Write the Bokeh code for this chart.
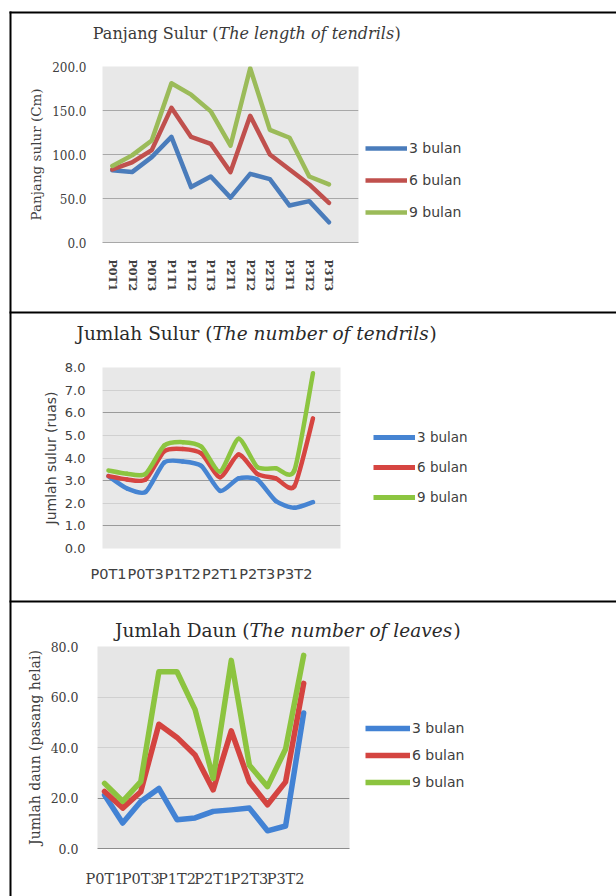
from bokeh.plotting import figure
from bokeh.models import (Range1d, FixedTicker, PrintfTickFormatter, Legend, LegendItem,
                          Label, Grid, BoxAnnotation)
from bokeh.embed import file_html
from bokeh.resources import INLINE

# ---------------- data ----------------
categories = ["P0T1", "P0T2", "P0T3", "P1T1", "P1T2", "P1T3",
              "P2T1", "P2T2", "P2T3", "P3T1", "P3T2", "P3T3"]
series_names = ["3 bulan", "6 bulan", "9 bulan"]

# Panjang sulur (cm)
panjang_3 = [82, 80, 97, 120, 63, 75, 51, 78, 72, 42, 47, 23]
panjang_6 = [83, 91, 105, 153, 120, 112, 80, 144, 100, 83, 66, 45]
panjang_9 = [87, 99, 116, 181, 168, 149, 110, 198, 128, 119, 75, 66]

# Jumlah sulur
jsulur_3 = [3.2, 2.65, 2.5, 3.8, 3.85, 3.65, 2.55, 3.1, 3.05, 2.1, 1.8, 2.05]
jsulur_6 = [3.2, 3.05, 3.05, 4.3, 4.4, 4.2, 3.15, 4.15, 3.3, 3.1, 2.75, 5.75]
jsulur_9 = [3.45, 3.3, 3.3, 4.55, 4.7, 4.5, 3.4, 4.85, 3.6, 3.55, 3.45, 7.75]

# Jumlah daun
jdaun_3 = [21.2, 10.1, 18.6, 23.8, 11.4, 12.1, 14.7, 15.3, 16.0, 7.0, 8.9, 53.7]
jdaun_6 = [22.6, 16.0, 22.5, 49.2, 44.0, 37.0, 23.2, 46.6, 26.4, 17.3, 26.4, 65.4]
jdaun_9 = [25.8, 18.7, 26.5, 70.0, 70.0, 55.0, 27.7, 74.5, 33.0, 24.5, 39.4, 76.5]

ticks_1 = [0, 50, 100, 150, 200]
ticks_2 = [0, 1, 2, 3, 4, 5, 6, 7, 8]
ticks_3 = [0, 20, 40, 60, 80]

colors_1 = ["#4a7cbb", "#c0504d", "#9bbb59"]
colors_2 = ["#4684d2", "#d64541", "#8cc540"]
colors_3 = ["#4282d4", "#d44440", "#8cc43f"]

xpos = list(range(len(categories)))

PAGE_W, PAGE_H = 616, 896


def place(left, top):
    return {"position": "absolute", "left": f"{left}px", "top": f"{top}px"}


# ---------------- background sheet: table rules, titles, legends ----------------
bg = figure(width=PAGE_W, height=PAGE_H, x_range=Range1d(0, PAGE_W), y_range=Range1d(PAGE_H, 0),
            output_backend="svg", toolbar_location=None, tools="",
            x_axis_location=None, y_axis_location=None, min_border=0,
            background_fill_color="white", border_fill_color="white", outline_line_color=None,
            styles=place(0, 0))
bg.grid.visible = False
bg.extra_x_ranges = {"hidden": Range1d(1000, 1001)}

rule = dict(fill_color="black", fill_alpha=1, line_color=None)
bg.add_layout(BoxAnnotation(left=9, right=11, top=11, bottom=PAGE_H, **rule))
for y0 in (11, 311, 600):
    bg.add_layout(BoxAnnotation(left=9, right=PAGE_W, top=y0, bottom=y0 + 2, **rule))


def add_title(bx, y, normal, italic, size, italic_w, color):
    common = dict(text_font="DejaVu Serif", text_font_size=size,
                  text_baseline="middle", text_color=color)
    bg.add_layout(Label(x=bx, y=y, text=normal, text_align="right", **common))
    bg.add_layout(Label(x=bx, y=y, text=italic, text_align="left",
                        text_font_style="italic", **common))
    bg.add_layout(Label(x=bx + italic_w, y=y, text=")", text_align="left", **common))


def add_legend(series, colors, lw, gx, gbottom, gw, gh, sp, fsize):
    items = []
    for name, ys, c in zip(series_names, series, colors):
        r = bg.line(xpos, ys, line_color=c, line_width=lw, x_range_name="hidden")
        items.append(LegendItem(label=name, renderers=[r]))
    lg = Legend(items=items, location=(gx, PAGE_H - gbottom), glyph_width=gw, glyph_height=gh,
                label_height=gh, spacing=sp, padding=0, margin=0, label_standoff=2,
                border_line_color=None, background_fill_alpha=0,
                label_text_font="DejaVu Sans", label_text_font_size=fsize,
                label_text_color="#404040")
    bg.add_layout(lg, "center")


add_title(218, 33, "Panjang Sulur (", "The length of tendrils", "16px", 176, "#3a3a3a")
add_title(212, 333, "Jumlah Sulur (", "The number of tendrils", "18.5px", 217, "#2a2a2a")
add_title(249, 630, "Jumlah Daun (", "The number of leaves", "18.5px", 204, "#2a2a2a")

add_legend([panjang_3, panjang_6, panjang_9], colors_1, 4.5, 365, 222, 42, 20, 12, "14px")
add_legend([jsulur_3, jsulur_6, jsulur_9], colors_2, 5, 373, 507, 42, 20, 10, "13.5px")
add_legend([jdaun_3, jdaun_6, jdaun_9], colors_3, 5.5, 365, 791, 45, 18, 9, "14px")


# ---------------- chart figures ----------------
def chart(left, top, lb, fw, tb, fh, bb, xr, yr, bg_color):
    p = figure(width=lb + fw + 5, height=tb + fh + bb, x_range=Range1d(*xr), y_range=Range1d(*yr),
               output_backend="svg", toolbar_location=None, tools="",
               min_border_left=lb, min_border_right=5, min_border_top=tb, min_border_bottom=bb,
               background_fill_color=bg_color, border_fill_alpha=0,
               outline_line_color=None, styles=place(left, top))
    p.xgrid.visible = False
    for ax in (p.xaxis[0], p.yaxis[0]):
        ax.major_tick_line_color = None
        ax.minor_tick_line_color = None
    p.yaxis.axis_line_color = None
    p.yaxis.formatter = PrintfTickFormatter(format="%.1f")
    p.yaxis.major_label_text_color = "#404040"
    p.yaxis.axis_label_text_color = "#404040"
    p.yaxis.axis_label_text_font_style = "normal"
    p.xaxis.major_label_text_color = "#404040"
    return p


def draw(p, series, colors, lw):
    for ys, c in zip(series, colors):
        p.line(xpos, ys, line_color=c, line_width=lw, line_join="round", line_cap="round")


def draw_smooth(p, series, colors, lw, k=9.0):
    # smoothed line (as in the original chart): each segment is a cubic Bezier
    # whose control points follow the neighbouring data points
    n = len(xpos)
    for ys, c in zip(series, colors):
        seg = {key: [] for key in ("x0", "y0", "x1", "y1", "cx0", "cy0", "cx1", "cy1")}
        for i in range(n - 1):
            a, b, d = max(i - 1, 0), i + 1, min(i + 2, n - 1)
            seg["x0"].append(xpos[i]); seg["y0"].append(ys[i])
            seg["x1"].append(xpos[b]); seg["y1"].append(ys[b])
            seg["cx0"].append(xpos[i] + (xpos[b] - xpos[a]) / k)
            seg["cy0"].append(ys[i] + (ys[b] - ys[a]) / k)
            seg["cx1"].append(xpos[b] - (xpos[d] - xpos[i]) / k)
            seg["cy1"].append(ys[b] - (ys[d] - ys[i]) / k)
        p.bezier(line_color=c, line_width=lw, line_cap="round", **seg)


# chart 1: frame x 102-358, y 66-242
p1 = chart(11, 60, 91, 256, 6, 176, 69, (-0.5, 12.5), (0, 200), "#e8e8e8")
p1.ygrid.ticker = FixedTicker(ticks=ticks_1[1:])
p1.ygrid.grid_line_color = "#a8a8a8"
p1.yaxis.ticker = FixedTicker(ticks=ticks_1)
p1.yaxis.major_label_text_font = "DejaVu Serif"
p1.yaxis.major_label_text_font_size = "12px"
p1.yaxis.major_label_standoff = 10
p1.yaxis.axis_label = "Panjang sulur (Cm)"
p1.yaxis.axis_label_text_font = "DejaVu Serif"
p1.yaxis.axis_label_text_font_size = "13.5px"
p1.yaxis.axis_label_standoff = 5
p1.xaxis.ticker = FixedTicker(ticks=xpos)
p1.xaxis.major_label_overrides = {i: categories[i] for i in xpos}
p1.xaxis.major_label_orientation = "vertical"
p1.xaxis.major_label_text_font = "DejaVu Serif"
p1.xaxis.major_label_text_font_style = "bold"
p1.xaxis.major_label_text_font_size = "11px"
p1.xaxis.major_label_standoff = 11
p1.xaxis.axis_line_color = "#a8a8a8"
draw(p1, [panjang_3, panjang_6, panjang_9], colors_1, 4.5)

# chart 2: frame x 102-340, y 367-548
p2 = chart(11, 361, 91, 238, 6, 181, 50, (-0.32, 12.48), (0, 8), "#e8e8e8")
p2.ygrid.ticker = FixedTicker(ticks=[1, 3, 6, 8])
p2.ygrid.grid_line_color = "#9a9a9a"
p2.add_layout(Grid(dimension=1, ticker=FixedTicker(ticks=[2, 4, 5, 7]),
                   grid_line_color="#d0d0d0"), "center")
p2.yaxis.ticker = FixedTicker(ticks=ticks_2)
p2.yaxis.major_label_text_font = "DejaVu Sans"
p2.yaxis.major_label_text_font_size = "13px"
p2.yaxis.major_label_standoff = 11
p2.yaxis.axis_label = "Jumlah sulur (ruas)"
p2.yaxis.axis_label_text_font = "DejaVu Sans"
p2.yaxis.axis_label_text_font_size = "14px"
p2.yaxis.axis_label_standoff = 3
p2.xaxis.ticker = FixedTicker(ticks=xpos[::2])
p2.xaxis.major_label_overrides = {i: categories[i] for i in xpos[::2]}
p2.xaxis.major_label_text_font = "DejaVu Sans"
p2.xaxis.major_label_text_font_size = "14.5px"
p2.xaxis.major_label_standoff = 11
p2.xaxis.axis_line_color = None
draw_smooth(p2, [jsulur_3, jsulur_6, jsulur_9], colors_2, 4.5)

# chart 3: frame x 97-349, y 646-851
p3 = chart(11, 640, 86, 252, 6, 205, 38, (-0.39, 13.53), (0, 80), "#e6e6e6")
p3.ygrid.ticker = FixedTicker(ticks=[20])
p3.ygrid.grid_line_color = "#8c8c8c"
p3.add_layout(Grid(dimension=1, ticker=FixedTicker(ticks=[40, 60, 80]),
                   grid_line_color="#d0d0d0"), "center")
p3.yaxis.ticker = FixedTicker(ticks=ticks_3)
p3.yaxis.major_label_text_font = "DejaVu Serif"
p3.yaxis.major_label_text_font_size = "12.5px"
p3.yaxis.major_label_standoff = 13
p3.yaxis.axis_label = "Jumlah daun (pasang helai)"
p3.yaxis.axis_label_text_font = "DejaVu Serif"
p3.yaxis.axis_label_text_font_size = "14px"
p3.yaxis.axis_label_standoff = 5
p3.xaxis.ticker = FixedTicker(ticks=xpos[::2])
p3.xaxis.major_label_overrides = {i: categories[i] for i in xpos[::2]}
p3.xaxis.major_label_text_font = "DejaVu Serif"
p3.xaxis.major_label_text_font_size = "14.5px"
p3.xaxis.major_label_standoff = 16
p3.xaxis.axis_line_color = "#8c8c8c"
draw(p3, [jdaun_3, jdaun_6, jdaun_9], colors_3, 5.5)

open("out.html", "w").write(file_html([bg, p1, p2, p3], INLINE))
